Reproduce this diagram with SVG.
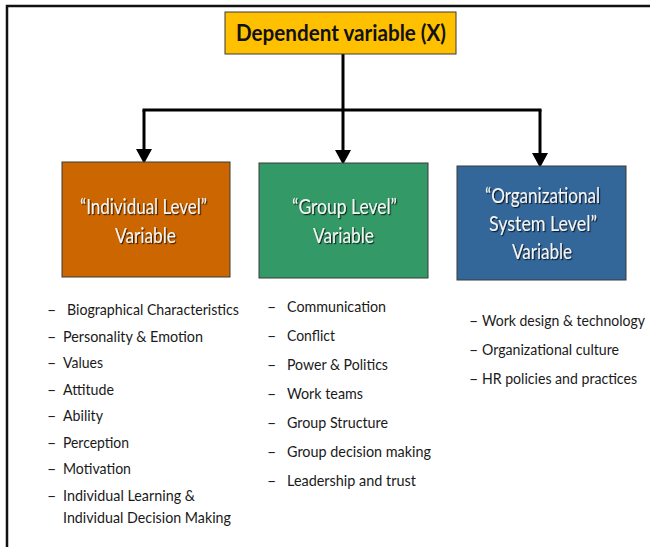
<svg xmlns="http://www.w3.org/2000/svg" width="650" height="547" viewBox="0 0 650 547">
  <style>
    .frame { fill: none; stroke: #111; stroke-width: 2.5; }
    .box { stroke: #3a3a3a; stroke-width: 1; }
    .title { font-family: Lato, "Open Sans", sans-serif; font-weight: bold; font-size: 23px; fill: #111; text-anchor: middle; }
    .label { font-family: Lato, "Open Sans", sans-serif; font-size: 20.5px; fill: #f4f4f4; text-anchor: middle; filter: url(#shadow); }
    .item { font-family: Lato, "Open Sans", sans-serif; font-size: 16px; fill: #1a1a1a; }
    .item-narrow { font-size: 14.5px; }
    .conn { fill: none; stroke: #000; stroke-width: 3; }
  </style>
  <defs>
    <filter id="shadow" x="-10%" y="-30%" width="120%" height="160%">
      <feDropShadow dx="1.2" dy="1.2" stdDeviation="0.7" flood-color="#000" flood-opacity="0.7"/>
    </filter>
    <marker id="arrow" markerUnits="userSpaceOnUse" markerWidth="16" markerHeight="16" refX="7" refY="0" viewBox="0 0 14 13" orient="0">
      <path d="M0,0 L14,0 L7,13 Z" fill="#000"/>
    </marker>
  </defs>

  <!-- outer frame (top and left edges) -->
  <path class="frame" d="M7,547 V6 H650"/>

  <!-- connectors -->
  <g id="connectors">
    <path class="conn" d="M343,54 V150" marker-end="url(#arrow)"/>
    <path class="conn" d="M142.5,110 H541.5"/>
    <path class="conn" d="M144,110 V149" marker-end="url(#arrow)"/>
    <path class="conn" d="M540,110 V153" marker-end="url(#arrow)"/>
  </g>

  <g id="dependent">
    <rect class="box" x="225" y="12" width="231" height="42" fill="#FFC000"/>
    <text class="title" x="341" y="41" textLength="210" lengthAdjust="spacingAndGlyphs">Dependent variable (X)</text>
  </g>

  <g id="individual">
    <rect class="box" x="62" y="162" width="168" height="115" fill="#CC6600"/>
    <text class="label" x="143.5" y="214" textLength="127" lengthAdjust="spacingAndGlyphs">“Individual Level”</text>
    <text class="label" x="145.5" y="243" textLength="61" lengthAdjust="spacingAndGlyphs">Variable</text>
  </g>

  <g id="group">
    <rect class="box" x="259" y="163" width="169" height="115" fill="#339966"/>
    <text class="label" x="344.5" y="214" textLength="105" lengthAdjust="spacingAndGlyphs">“Group Level”</text>
    <text class="label" x="343.5" y="243" textLength="61" lengthAdjust="spacingAndGlyphs">Variable</text>
  </g>

  <g id="organizational">
    <rect class="box" x="457" y="166" width="169" height="114" fill="#336699"/>
    <text class="label" x="542.5" y="203" textLength="115" lengthAdjust="spacingAndGlyphs">“Organizational</text>
    <text class="label" x="543" y="231" textLength="108" lengthAdjust="spacingAndGlyphs">System Level”</text>
    <text class="label" x="542" y="259" textLength="60" lengthAdjust="spacingAndGlyphs">Variable</text>
  </g>

  <g id="individual-list" class="item">
    <text x="47" y="315">–</text><text x="67" y="315" textLength="172" lengthAdjust="spacingAndGlyphs">Biographical Characteristics</text>
    <text x="47" y="342">–</text><text x="63" y="342" textLength="140" lengthAdjust="spacingAndGlyphs">Personality &amp; Emotion</text>
    <text x="47" y="368">–</text><text x="63" y="368" textLength="40" lengthAdjust="spacingAndGlyphs">Values</text>
    <text x="47" y="395">–</text><text x="63" y="395" textLength="51" lengthAdjust="spacingAndGlyphs">Attitude</text>
    <text x="47" y="421">–</text><text x="63" y="421" textLength="40" lengthAdjust="spacingAndGlyphs">Ability</text>
    <text x="47" y="448">–</text><text x="63" y="448" textLength="66" lengthAdjust="spacingAndGlyphs">Perception</text>
    <text x="47" y="474">–</text><text x="63" y="474" textLength="68" lengthAdjust="spacingAndGlyphs">Motivation</text>
    <text x="47" y="501">–</text><text x="63" y="501" textLength="132" lengthAdjust="spacingAndGlyphs">Individual Learning &amp;</text>
    <text x="63" y="523" textLength="168" lengthAdjust="spacingAndGlyphs">Individual Decision Making</text>
  </g>

  <g id="group-list" class="item">
    <text x="267" y="312">–</text><text x="287" y="312" textLength="99" lengthAdjust="spacingAndGlyphs">Communication</text>
    <text x="267" y="341">–</text><text x="287" y="341" textLength="48" lengthAdjust="spacingAndGlyphs">Conflict</text>
    <text x="267" y="370">–</text><text x="287" y="370" textLength="101" lengthAdjust="spacingAndGlyphs">Power &amp; Politics</text>
    <text x="267" y="399">–</text><text x="287" y="399" textLength="76" lengthAdjust="spacingAndGlyphs">Work teams</text>
    <text x="267" y="428">–</text><text x="287" y="428" textLength="101" lengthAdjust="spacingAndGlyphs">Group Structure</text>
    <text x="267" y="457">–</text><text x="287" y="457" textLength="144" lengthAdjust="spacingAndGlyphs">Group decision making</text>
    <text x="267" y="486">–</text><text x="287" y="486" textLength="129" lengthAdjust="spacingAndGlyphs">Leadership and trust</text>
  </g>

  <g id="organizational-list" class="item">
    <text x="469" y="326">–</text><text class="item-narrow" x="482" y="326" textLength="163" lengthAdjust="spacingAndGlyphs">Work design &amp; technology</text>
    <text x="469" y="355">–</text><text class="item-narrow" x="482" y="355" textLength="137" lengthAdjust="spacingAndGlyphs">Organizational culture</text>
    <text x="469" y="384">–</text><text class="item-narrow" x="482" y="384" textLength="155" lengthAdjust="spacingAndGlyphs">HR policies and practices</text>
  </g>
</svg>
